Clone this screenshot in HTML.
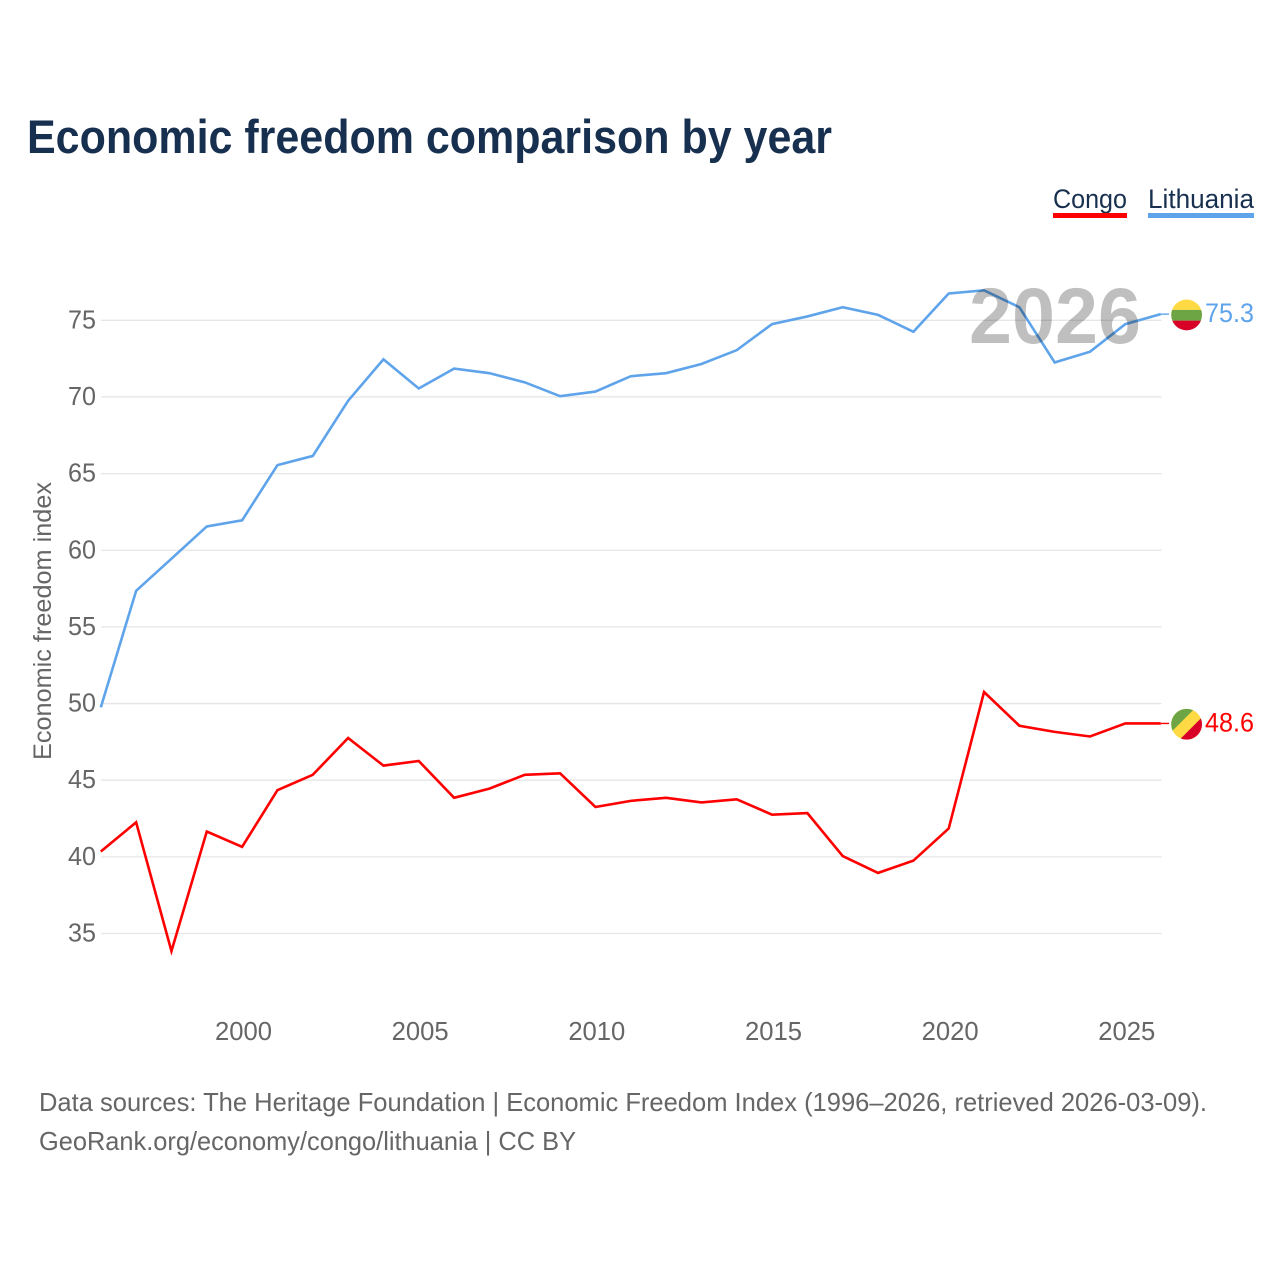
<!DOCTYPE html>
<html lang="en">
<head>
<meta charset="utf-8">
<title>Economic freedom comparison by year</title>
<style>
html,body{margin:0;padding:0;background:#fff;width:1280px;height:1280px;overflow:hidden}
svg{display:block}
text{font-family:"Liberation Sans",Arial,sans-serif}
</style>
</head>
<body>
<svg id="chart" xmlns="http://www.w3.org/2000/svg" width="1280" height="1280" viewBox="0 0 1280 1280">
  <text x="27" y="153" font-size="47" font-weight="700" fill="#18304f" textLength="805" lengthAdjust="spacingAndGlyphs">Economic freedom comparison by year</text>

  <g>
    <g>
      <text x="1053" y="208" font-size="27" fill="#18304f" textLength="74" lengthAdjust="spacingAndGlyphs">Congo</text>
      <rect x="1053" y="213" width="74" height="5" fill="#ff0000"/>
    </g>
    <g>
      <text x="1148" y="208" font-size="27" fill="#18304f" textLength="106" lengthAdjust="spacingAndGlyphs">Lithuania</text>
      <rect x="1148" y="213" width="106" height="5" fill="#5fa4eb"/>
    </g>
  </g>

  <g id="grid"></g>
  <g id="yticks"></g>
  <g id="xticks"></g>
  <text transform="translate(51,621) rotate(-90)" text-anchor="middle" font-size="25" fill="#666666" textLength="278" lengthAdjust="spacingAndGlyphs">Economic freedom index</text>

  <g id="series"></g>

  <text id="year-watermark" x="1055" y="343" text-anchor="middle" font-size="79" font-weight="700" fill="#000" fill-opacity="0.25" textLength="172" lengthAdjust="spacingAndGlyphs">2026</text>

  <g id="ends"></g>

  <defs>
    <clipPath id="clip-lt"><circle cx="1186.6" cy="0" r="15.4"/></clipPath>
    <clipPath id="clip-cg"><circle cx="1186.6" cy="0" r="15.4"/></clipPath>
  </defs>

  <text x="39" y="1111" font-size="26" fill="#666666" textLength="1168" lengthAdjust="spacingAndGlyphs">Data sources: The Heritage Foundation | Economic Freedom Index (1996–2026, retrieved 2026-03-09).</text>
  <text x="39" y="1150" font-size="26" fill="#666666" textLength="537" lengthAdjust="spacingAndGlyphs">GeoRank.org/economy/congo/lithuania | CC BY</text>
</svg>

<script>
const years = [1996,1997,1998,1999,2000,2001,2002,2003,2004,2005,2006,2007,2008,2009,2010,2011,2012,2013,2014,2015,2016,2017,2018,2019,2020,2021,2022,2023,2024,2025,2026];
const congoValues = [40.3,42.2,33.8,41.6,40.6,44.3,45.3,47.7,45.9,46.2,43.8,44.4,45.3,45.4,43.2,43.6,43.8,43.5,43.7,42.7,42.8,40.0,38.9,39.7,41.8,50.7,48.5,48.1,47.8,48.65,48.65];
const lithuaniaValues = [49.7,57.3,59.4,61.5,61.9,65.5,66.1,69.7,72.4,70.5,71.8,71.5,70.9,70.0,70.3,71.3,71.5,72.1,73.0,74.7,75.2,75.8,75.3,74.2,76.7,76.9,75.8,72.2,72.9,74.7,75.35];
const congoPrinted = '48.6';
const lithuaniaPrinted = '75.3';
const yTickValues = [35,40,45,50,55,60,65,70,75];
const xTickValues = [2000,2005,2010,2015,2020,2025];

const NS = 'http://www.w3.org/2000/svg';
function xScale(year){ return 100.8 + (year - 1996) * 35.33; }
function yAxis(v){ return 933.5 - (v - 35) * 15.33; }
function yScale(v){ return yAxis(v) - 0.8; }
function make(tag, attrs, parent){
  const el = document.createElementNS(NS, tag);
  for (const k in attrs) el.setAttribute(k, attrs[k]);
  parent.appendChild(el);
  return el;
}
const grid = document.getElementById('grid');
const yticks = document.getElementById('yticks');
const xticks = document.getElementById('xticks');
const seriesG = document.getElementById('series');
const ends = document.getElementById('ends');

yTickValues.forEach(function(v){
  const line = make('line', {x1:101, x2:1161.5, y1:yAxis(v), y2:yAxis(v), stroke:'#e6e6e6', 'stroke-width':1.3}, grid);
  
  
  const t = make('text', {x:96, y:yAxis(v)+8, 'text-anchor':'end', 'font-size':25.5, fill:'#666666', textLength:28, lengthAdjust:'spacingAndGlyphs'}, yticks);
  t.textContent = String(v);
  
  
});

xTickValues.forEach(function(y){
  const t = make('text', {x:xScale(y)+1.4, y:1040, 'text-anchor':'middle', 'font-size':25.5, fill:'#666666', textLength:57, lengthAdjust:'spacingAndGlyphs'}, xticks);
  t.textContent = String(y);
  
  
});

function drawLine(values, color, name){
  const pts = values.map(function(v,i){ return xScale(years[i]).toFixed(2) + ',' + yScale(v).toFixed(2); }).join(' ');
  const pl = make('polyline', {points:pts, fill:'none', stroke:color, 'stroke-width':2.6, 'stroke-linejoin':'miter'}, seriesG);
  
  
  const last = values[values.length-1];
  const conn = make('line', {x1:xScale(years[years.length-1]), x2:1169, y1:yScale(last), y2:yScale(last), stroke:color, 'stroke-width':1.4}, seriesG);
  
  
}
drawLine(lithuaniaValues, '#5fa4eb', 'lithuania');
drawLine(congoValues, '#ff0000', 'congo');

function endLabel(values, printed, color, name, flagBuilder){
  const last = values[values.length-1];
  const cy = yScale(last) + 0.8;
  const g = make('g', {transform:'translate(0,' + cy.toFixed(2) + ')'}, ends);
  
  
  flagBuilder(g);
  const t = make('text', {x:1205, y:7, 'font-size':26.5, fill:color, textLength:49, lengthAdjust:'spacingAndGlyphs'}, g);
  t.textContent = printed;
  
  
}

endLabel(lithuaniaValues, lithuaniaPrinted, '#5fa4eb', 'lithuania', function(g){
  const f = make('g', {'clip-path':'url(#clip-lt)'}, g);
  
  
  make('rect', {x:1171, y:-16, width:32, height:11, fill:'#ffda44'}, f);
  make('rect', {x:1171, y:-5, width:32, height:10.7, fill:'#6da544'}, f);
  make('rect', {x:1171, y:5.7, width:32, height:11, fill:'#d80027'}, f);
});

endLabel(congoValues, congoPrinted, '#ff0000', 'congo', function(g){
  const f = make('g', {'clip-path':'url(#clip-cg)'}, g);
  
  
  make('rect', {x:1171, y:-16, width:32, height:32, fill:'#ffda44'}, f);
  make('polygon', {points:'1171,-16 1195,-16 1171,8', fill:'#6da544'}, f);
  make('polygon', {points:'1203,16 1179,16 1203,-8', fill:'#d80027'}, f);
});
</script>
</body>
</html>
